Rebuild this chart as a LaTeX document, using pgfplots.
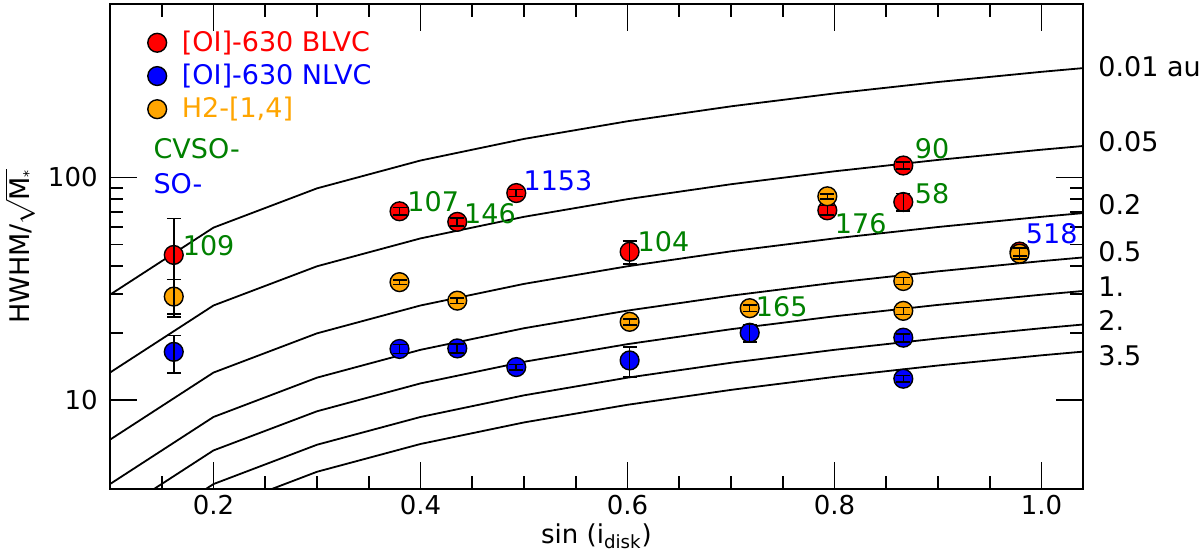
\documentclass[border=0pt]{standalone}
\usepackage{pgfplots}
\usepackage{pgfplotstable}
\pgfplotsset{compat=1.18}
\usetikzlibrary{calc}
\usepackage{fontspec}
\setmainfont{DejaVu Sans}
\definecolor{myorange}{RGB}{255,165,0}
\definecolor{mygreen}{RGB}{0,128,0}

\pgfplotstableread{
s    a      b      c      d      e      f      g
0.1  29.78  13.32  6.66   4.21   2.98   2.11   1.59
0.2  59.56  26.64  13.32  8.42   5.96   4.21   3.18
0.3  89.34  39.95  19.98  12.64  8.93   6.32   4.78
0.4  119.12 53.27  26.64  16.85  11.91  8.42   6.37
0.5  148.90 66.59  33.30  21.06  14.89  10.53  7.96
0.6  178.68 79.91  39.95  25.27  17.87  12.64  9.55
0.7  208.46 93.23  46.61  29.48  20.85  14.74  11.14
0.8  238.24 106.54 53.27  33.70  23.82  16.85  12.74
0.9  268.02 119.86 59.93  37.91  26.80  18.95  14.33
1.0  297.80 133.18 66.59  42.12  29.78  21.06  15.92
1.1  327.58 146.50 73.25  46.33  32.76  23.17  17.51
}\curvetab

\pgfplotstableread{
x      y      ep    em
0.1616 44.9   20.5  20.5
0.3797 70.5   2.8   2.8
0.4355 63.2   2.5   2.5
0.4925 85.1   3.0   3.0
0.6020 46.4   5.6   5.5
0.7930 71.2   3.5   3.5
0.8664 113.1  4.0   4.0
0.8664 77.6   7.0   7.0
0.9787 46.5   2.0   2.0
}\tabred

\pgfplotstableread{
x      y      ep    em
0.1616 16.5   3.0   3.2
0.3797 17.0   0.8   0.8
0.4355 17.1   0.8   0.8
0.4925 14.1   0.4   0.4
0.6020 15.1   2.3   2.4
0.7180 20.1   1.8   1.8
0.8664 19.1   0.8   0.8
0.8664 12.5   0.4   0.4
}\tabblue

\pgfplotstableread{
x      y      ep    em
0.1616 29.2   5.6   5.6
0.3797 33.9   0.8   0.8
0.4355 28.0   0.8   0.8
0.6020 22.5   0.7   0.7
0.7180 25.9   0.9   0.9
0.7930 82.3   2.2   2.2
0.8664 34.3   1.2   1.2
0.8664 25.2   0.9   0.9
0.9787 45.5   2.5   2.5
}\taborange

\pgfplotsset{
  errplot/.style={draw=none, mark=none,
    error bars/.cd, y dir=both, y explicit,
    error bar style={draw=black, line width=0.8pt},
    error mark options={rotate=90, draw=black, line width=0.8pt, mark size=3.5pt}},
  dot/.style={only marks, mark=*, mark size=4.7pt, mark options={fill=#1, draw=black, line width=0.7pt}},
}

\begin{document}
\begin{tikzpicture}
\begin{axis}[
  scale only axis,
  width=486.5pt, height=242.5pt,
  xmin=0.1, xmax=1.04,
  ymode=log, ymin=4, ymax=600,
  clip mode=individual,
  axis line style={line width=1pt},
  every tick/.style={black, line width=0.9pt},
  major tick length=13.5pt,
  minor tick length=6.7pt,
  tick align=inside,
  xtick={0.2,0.4,0.6,0.8,1.0},
  xticklabels={0.2,0.4,0.6,0.8,1.0},
  minor xtick={0.15,0.25,0.3,0.35,0.45,0.5,0.55,0.65,0.7,0.75,0.85,0.9,0.95},
  ytick={10,100},
  yticklabels={10,100},
  /pgf/number format/assume math mode=true,
  xticklabel style={inner sep=0pt, yshift=-3pt, font=\fontsize{13}{15}\selectfont},
  yticklabel style={inner sep=0pt, xshift=-6pt, font=\fontsize{13}{15}\selectfont},
  xlabel={sin (i\textsubscript{disk})},
  ylabel={HWHM/$\sqrt{\mbox{M}_{\mbox{\scriptsize *}}}$},
  xlabel style={at={(axis description cs:0.5,0)}, anchor=base, yshift=-27pt, font=\fontsize{13}{15}\selectfont},
  ylabel style={at={(axis description cs:-0.0925,0.5)}, anchor=center, inner sep=0pt, font=\fontsize{13.5}{16}\selectfont},
]
\pgfplotsinvokeforeach{a,b,c,d,e,f,g}{
  \addplot[black, line width=0.9pt, mark=none] table[x=s, y=#1] {\curvetab};
}
% markers
\addplot[dot=red] table[x=x,y=y] {\tabred};
\addplot[dot=blue] table[x=x,y=y] {\tabblue};
\addplot[dot=myorange] table[x=x,y=y] {\taborange};
% error bars on top
\addplot[errplot] table[x=x, y=y, y error plus=ep, y error minus=em] {\tabred};
\addplot[errplot] table[x=x, y=y, y error plus=ep, y error minus=em] {\tabblue};
\addplot[errplot] table[x=x, y=y, y error plus=ep, y error minus=em] {\taborange};
% legend markers
\addplot[dot=red] coordinates {(0.1456,402)};
\addplot[dot=blue] coordinates {(0.1456,285)};
\addplot[dot=myorange] coordinates {(0.1456,202.4)};
\begin{scope}[every node/.style={inner sep=0pt, anchor=west, font=\fontsize{13.5}{16}\selectfont}]
\node[red] at (axis cs:0.169,402) {[OI]-630 BLVC};
\node[blue] at (axis cs:0.169,285) {[OI]-630 NLVC};
\node[myorange] at (axis cs:0.169,202.4) {H2-[1,4]};
\node[mygreen] at (axis cs:0.1417,134.3) {CVSO-};
\node[blue] at (axis cs:0.1417,93.7) {SO-};
\node[mygreen] at (axis cs:0.170,49.2) {109};
\node[mygreen] at (axis cs:0.387,77.6) {107};
\node[mygreen] at (axis cs:0.4418,68.9) {146};
\node[blue] at (axis cs:0.4992,96.9) {1153};
\node[mygreen] at (axis cs:0.6094,51.5) {104};
\node[mygreen] at (axis cs:0.7237,26.4) {165};
\node[mygreen] at (axis cs:0.8773,134.3) {90};
\node[mygreen] at (axis cs:0.8773,84.6) {58};
\node[mygreen] at (axis cs:0.80,62.1) {176};
\node[blue] at (axis cs:0.9845,56.1) {518};
\end{scope}
\begin{scope}[every node/.style={inner sep=0pt, anchor=west, xshift=7.5pt, font=\fontsize{13.5}{16}\selectfont}]
\node at (axis cs:1.04,315) {0.01 au};
\node at (axis cs:1.04,144.8) {0.05};
\node at (axis cs:1.04,75.8) {0.2};
\node at (axis cs:1.04,46.4) {0.5};
\node at (axis cs:1.04,32.4) {1.};
\node at (axis cs:1.04,22.8) {2.};
\node at (axis cs:1.04,15.9) {3.5};
\end{scope}
\coordinate (BL) at (rel axis cs:0,0);
\coordinate (TR) at (rel axis cs:1,1);
\end{axis}
\pgfresetboundingbox
\path ($(BL)+(-55pt,-32.5pt)$) rectangle ($(TR)+(58.5pt,2pt)$);
\end{tikzpicture}
\end{document}
